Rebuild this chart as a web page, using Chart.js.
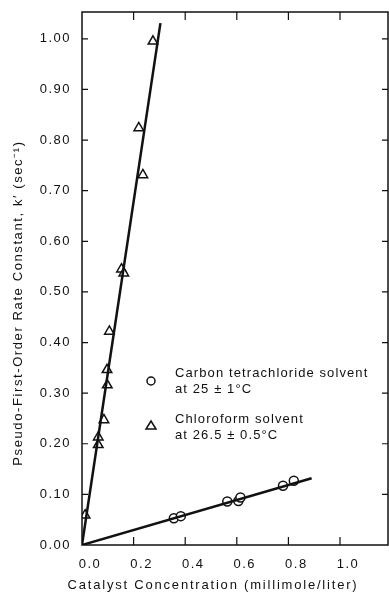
<!DOCTYPE html>
<html>
<head>
<meta charset="utf-8">
<script src="https://cdn.jsdelivr.net/npm/chart.js@4"></script>
<style>
  html, body { margin: 0; padding: 0; background: #fff; }
  #wrap { width: 389px; height: 594px; }
</style>
</head>
<body>
<div id="wrap"><canvas id="rate-chart"></canvas></div>
<script>
// ================== data ======================
const xTickValues = [0, 0.2, 0.4, 0.6, 0.8, 1.0];
const xTickLabels = ["0.0", "0.2", "0.4", "0.6", "0.8", "1.0"];
const yTickValues = [0, 0.1, 0.2, 0.3, 0.4, 0.5, 0.6, 0.7, 0.8, 0.9, 1.0];
const yTickLabels = ["0.00", "0.10", "0.20", "0.30", "0.40", "0.50", "0.60", "0.70", "0.80", "0.90", "1.00"];

// carbon tetrachloride (circles)
const ccl4X = [0.356, 0.383, 0.563, 0.606, 0.614, 0.779, 0.821];
const ccl4Y = [0.053, 0.057, 0.086, 0.087, 0.094, 0.117, 0.127];
// chloroform (triangles)
const chclX = [0.012, 0.063, 0.063, 0.085, 0.098, 0.097, 0.106, 0.153, 0.162, 0.236, 0.22, 0.275];
const chclY = [0.059, 0.198, 0.213, 0.247, 0.316, 0.346, 0.422, 0.545, 0.537, 0.731, 0.824, 0.995];

// fitted lines (end points)
const ccl4FitX = [0, 0.89];
const ccl4FitY = [0, 0.132];
const chclFitX = [0, 0.304];
const chclFitY = [0, 1.031];

const legendLabels = [
  ["Carbon tetrachloride solvent", "at 25 ± 1°C"],
  ["Chloroform solvent", "at 26.5 ± 0.5°C"],
];
const xTitle = "Catalyst Concentration (millimole/liter)";
const yTitle = "Pseudo-First-Order Rate Constant, k\u2032 (sec\u207B\u00B9)";

const ink = "#111";
const fontFamily = '"Liberation Sans", Arial, sans-serif';

function pairs(xs, ys) {
  return xs.map((x, i) => ({ x: x, y: ys[i] }));
}

// ================== custom drawing ======================
const spacing = {
  id: "spacing",
  beforeDraw(chart) {
    chart.ctx.letterSpacing = "1.5px";
  },
};

// box, inward ticks, legend and axis titles
const frame = {
  id: "frame",
  afterDraw(chart) {
    const ctx = chart.ctx;
    const a = chart.chartArea;
    const x = chart.scales.x;
    const y = chart.scales.y;
    ctx.save();
    ctx.strokeStyle = ink;
    ctx.lineWidth = 1.5;
    ctx.strokeRect(a.left, a.top, a.right - a.left, a.bottom - a.top);
    ctx.lineWidth = 1.2;
    ctx.beginPath();
    xTickValues.forEach((v) => {
      if (v === 0) return;
      const px = x.getPixelForValue(v);
      ctx.moveTo(px, a.bottom);
      ctx.lineTo(px, a.bottom - 8);
      ctx.moveTo(px, a.top);
      ctx.lineTo(px, a.top + 8);
    });
    yTickValues.forEach((v) => {
      if (v === 0) return;
      const py = y.getPixelForValue(v);
      ctx.moveTo(a.left, py);
      ctx.lineTo(a.left + 6, py);
      ctx.moveTo(a.right, py);
      ctx.lineTo(a.right - 6, py);
    });
    ctx.stroke();

    // legend
    ctx.fillStyle = ink;
    ctx.font = "13px " + fontFamily;
    ctx.letterSpacing = "1.1px";
    ctx.textAlign = "left";
    ctx.textBaseline = "middle";
    ctx.lineWidth = 1.5;
    ctx.beginPath();
    ctx.arc(151, 381, 4, 0, Math.PI * 2);
    ctx.stroke();
    ctx.beginPath();
    ctx.moveTo(151, 421);
    ctx.lineTo(156, 429);
    ctx.lineTo(146, 429);
    ctx.closePath();
    ctx.stroke();
    ctx.fillText(legendLabels[0][0], 175, 373);
    ctx.fillText(legendLabels[0][1], 175, 389);
    ctx.fillText(legendLabels[1][0], 175, 419);
    ctx.fillText(legendLabels[1][1], 175, 435);

    // axis titles
    ctx.textAlign = "center";
    ctx.letterSpacing = "1.8px";
    ctx.fillText(xTitle, 213, 585);
    ctx.letterSpacing = "1.6px";
    ctx.translate(18, 303);
    ctx.rotate(-Math.PI / 2);
    ctx.fillText(yTitle, 0, 0);
    ctx.restore();
  },
};

// ================== chart ======================
Chart.defaults.font.family = fontFamily;
Chart.defaults.font.size = 13;
Chart.defaults.color = ink;

const rateCanvas = document.getElementById("rate-chart");

let rateChart = new Chart(rateCanvas, {
  type: "scatter",
  data: {
    datasets: [
      {
        label: "CCl4 fit",
        data: pairs(ccl4FitX, ccl4FitY),
        showLine: true,
        borderColor: ink,
        borderWidth: 2.5,
        pointRadius: 0,
      },
      {
        label: "CHCl3 fit",
        data: pairs(chclFitX, chclFitY),
        showLine: true,
        borderColor: ink,
        borderWidth: 2.5,
        pointRadius: 0,
      },
      {
        label: legendLabels[0].join(" "),
        data: pairs(ccl4X, ccl4Y),
        pointStyle: "circle",
        pointRadius: 4.5,
        pointBorderWidth: 1.5,
        borderColor: ink,
        backgroundColor: "#fff",
      },
      {
        label: legendLabels[1].join(" "),
        data: pairs(chclX, chclY),
        pointStyle: "triangle",
        pointRadius: 5.5,
        pointBorderWidth: 1.5,
        borderColor: ink,
        backgroundColor: "#fff",
      },
    ],
  },
  options: {
    responsive: true,
    maintainAspectRatio: false,
    animation: false,
    layout: {
      autoPadding: false,
      padding: { top: 12, right: 1, left: 0, bottom: 0 },
    },
    scales: {
      x: {
        type: "linear",
        min: 0,
        max: 1.186,
        grid: { display: false },
        border: { display: false },
        afterFit: (scale) => {
          scale.height = 49;
          scale.paddingLeft = 0;
          scale.paddingRight = 0;
        },
        afterBuildTicks: (scale) => {
          scale.ticks = xTickValues.map((v) => ({ value: v }));
        },
        ticks: {
          autoSkip: false,
          maxRotation: 0,
          padding: 4,
          labelOffset: 8,
          callback: (v, i) => xTickLabels[i],
        },
      },
      y: {
        type: "linear",
        min: 0,
        max: 1.053,
        grid: { display: false },
        border: { display: false },
        afterFit: (scale) => {
          scale.width = 82;
          scale.paddingTop = 0;
          scale.paddingBottom = 0;
        },
        afterBuildTicks: (scale) => {
          scale.ticks = yTickValues.map((v) => ({ value: v }));
        },
        ticks: {
          autoSkip: false,
          padding: 3,
          callback: (v, i) => yTickLabels[i],
        },
      },
    },
    plugins: {
      legend: { display: false },
      tooltip: { enabled: false },
    },
  },
  plugins: [spacing, frame],
});
</script>
</body>
</html>
